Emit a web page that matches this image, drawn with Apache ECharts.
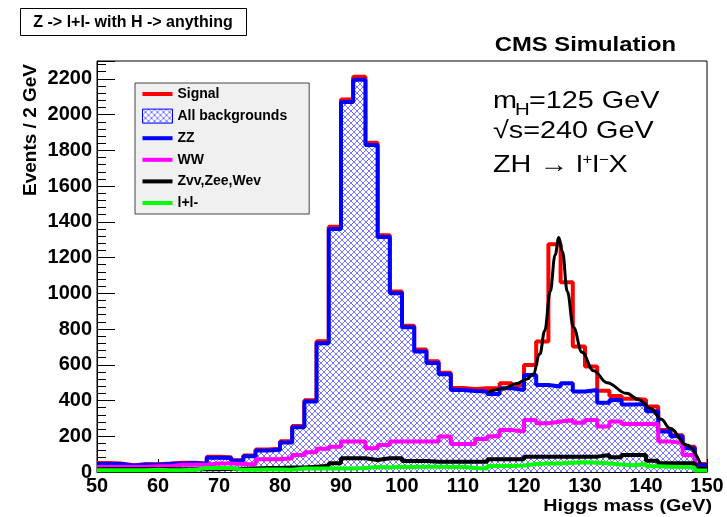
<!DOCTYPE html>
<html><head><meta charset="utf-8">
<script src="https://cdn.jsdelivr.net/npm/echarts@6/dist/echarts.min.js"></script>
<style>html,body{margin:0;padding:0;background:#fff}#c{width:727px;height:517px}</style>
</head><body><div id="c"></div>
<script>
// Bin edges (GeV), 2 GeV bins
const binEdges = [50,52,54,56,58,60,62,64,66,68,70,72,74,76,78,80,82,84,86,88,90,92,94,96,98,100,102,104,106,108,110,112,114,116,118,120,122,124,126,128,130,132,134,136,138,140,142,144,146,148,150];
// Signal + backgrounds (red)
const signalTotal = [50,48,38,44,44,47,52,52,48,86, 82,66,92,126,130,172,257,402,732,1372, 2085,2212,1842,1325,1010,818,685,620,555,470, 465,468,470,497,485,599,730,1275,1062,702, 590,455,425,410,405,366,235,205,142,45];
// All backgrounds (blue, hatched)
const allBackgrounds = [45,45,35,42,40,45,48,50,45,80, 78,63,88,120,125,165,250,394,720,1360, 2070,2195,1830,1315,1000,810,675,610,547,459, 453,450,437,469,459,543,487,478,497,450, 459,388,403,378,380,340,226,200,133,39];
// WW (magenta)
const wwValues = [28,28,28,28,32,32,40,40,40,48, 48,45,42,72,72,77,95,110,130,142, 170,170,133,151,170,170,170,170,198,157, 157,184,200,235,226,291,273,282,291,276, 291,254,282,269,269,269,170,164,95,20];
// Zvv,Zee,Wev (black)
const zvvValues = [15,15,15,15,15,15,15,15,15,15, 18,18,20,22,22,25,25,30,35,49, 77,77,67,77,77,62,62,58,58,58, 58,58,71,71,71,86,86,86,86,86, 86,95,82,95,95,63,49,49,49,20];
// l+l- (green)
const llValues = [10,10,10,10,12,10,10,12,22,22, 22,12,12,14,14,12,20,20,20,20, 20,22,28,25,30,28,30,30,28,30, 22,20,34,34,36,45,48,48,52,54, 52,48,42,38,45,32,30,28,25,8];
// Fit curve
const fitX = [114.1,116.5,118.8,120.5,121.5,122.6,123.4,124.3,125.1,125.7,126.3,127.1,128.1,129.5,131.4,133.6,136.8,138.8,140.8,142.5,143.9,146.7,148.9];
const fitY = [447,465,495,520,548,660,790,1010,1215,1312,1234,1010,810,670,567,500,440,405,355,295,245,151,49];

const FONT = 'Liberation Sans, Arial, Helvetica, sans-serif';
const LINE_ICON = 'path://M0,0M30,14M0,5L30,5L30,9L0,9Z';

function stepData(vals){
  return binEdges.map((e,i)=>[e, vals[Math.min(i, vals.length-1)]]);
}

const hatchCanvas = (function(){
  const c = document.createElement('canvas'); c.width = 6; c.height = 6;
  const g = c.getContext('2d');
  g.fillStyle = '#ffffff'; g.fillRect(0,0,6,6);
  g.strokeStyle = 'rgba(0,0,255,0.6)'; g.lineWidth = 0.9;
  g.beginPath(); g.moveTo(-1,-1); g.lineTo(7,7); g.moveTo(-1,7); g.lineTo(7,-1); g.stroke();
  return c;
})();
const hatchFill = {image: hatchCanvas, repeat: 'repeat'};

const chart = echarts.init(document.getElementById('c'), null, {renderer:'canvas'});

function stepSeries(name, vals, color, z, extra){
  return Object.assign({
    name: name, type:'line', step:'end', data: stepData(vals),
    symbol:'none', showSymbol:false, z: z,
    lineStyle:{color: color, width:4},
    itemStyle:{color: color},
    emphasis:{disabled:true}
  }, extra || {});
}

const option = {
  animation:false,
  backgroundColor:'#ffffff',
  grid:{left:97, right:20, top:61, bottom:45, show:true, borderColor:'#000', borderWidth:1, backgroundColor:'transparent'},
  xAxis:{
    type:'value', min:50, max:150, interval:10,
    axisLine:{show:true, lineStyle:{color:'#000', width:1}},
    axisTick:{show:true, inside:true, length:13, lineStyle:{color:'#000'}},
    minorTick:{show:true, inside:true, splitNumber:5, length:7, lineStyle:{color:'#000'}},
    splitLine:{show:false},
    axisLabel:{margin:4, fontSize:20, fontWeight:'bold', color:'#000', fontFamily:FONT}
  },
  yAxis:{
    type:'value', min:0, max:2300, interval:200,
    axisLine:{show:true, lineStyle:{color:'#000', width:1}},
    axisTick:{show:true, inside:true, length:18, lineStyle:{color:'#000'}},
    minorTick:{show:true, splitNumber:5, length:9, lineStyle:{color:'#000'}},
    splitLine:{show:false},
    axisLabel:{margin:5, fontSize:20, fontWeight:'bold', color:'#000', fontFamily:FONT,
      formatter: v => (v % 200 === 0 ? String(v) : '')}
  },
  legend:{
    orient:'vertical', left:135, top:83,
    padding:[4,22,4,7], itemWidth:30, itemHeight:14, itemGap:7.6,
    backgroundColor:'#f0f0f0', borderColor:'#444', borderWidth:1,
    textStyle:{fontFamily:FONT, fontWeight:'bold', fontSize:14, color:'#000'},
    data:[
      {name:'Signal', icon:LINE_ICON},
      {name:'All backgrounds', icon:'rect', itemStyle:{color:hatchFill, borderColor:'#0000ff', borderWidth:1}},
      {name:'ZZ', icon:LINE_ICON},
      {name:'WW', icon:LINE_ICON},
      {name:'Zvv,Zee,Wev', icon:LINE_ICON},
      {name:'l+l-', icon:LINE_ICON}
    ]
  },
  series:[
    stepSeries('Signal', signalTotal, '#ff0000', 2),
    stepSeries('All backgrounds', allBackgrounds, '#0000ff', 3, {
      lineStyle:{color:'#0000ff', width:0, opacity:0},
      itemStyle:{color:hatchFill},
      areaStyle:{color:hatchFill, opacity:1}
    }),
    stepSeries('ZZ', allBackgrounds, '#0000ff', 4),
    stepSeries('WW', wwValues, '#ff00ff', 5),
    stepSeries('Zvv,Zee,Wev', zvvValues, '#000000', 6),
    stepSeries('l+l-', llValues, '#00ff00', 7),
    {
      name:'fit', type:'line', smooth:0.4, smoothMonotone:'x', symbol:'none', showSymbol:false, z:8,
      data: fitX.map((x,i)=>[x, fitY[i]]),
      lineStyle:{color:'#000', width:3}, itemStyle:{color:'#000'}, emphasis:{disabled:true}
    }
  ],
  graphic:[
    {type:'rect', shape:{x:20.5, y:8.5, width:226, height:27}, style:{fill:'#fff', stroke:'#000', lineWidth:1}, z:10},
    {type:'text', x:133, y:22, scaleX:0.94, z:11,
      style:{text:'Z -> l+l- with H -> anything', fontFamily:FONT, fontWeight:'bold', fontSize:17, fill:'#000', align:'center', verticalAlign:'middle'}},
    {type:'text', x:676, y:45, scaleX:1.19, z:11,
      style:{text:'CMS Simulation', fontFamily:FONT, fontWeight:'bold', fontSize:20, fill:'#000', align:'right', verticalAlign:'middle'}},
    {type:'text', x:31, y:130, rotation:Math.PI/2, z:11,
      style:{text:'Events / 2 GeV', fontFamily:FONT, fontWeight:'bold', fontSize:19, fill:'#000', align:'center', verticalAlign:'middle'}},
    {type:'text', x:712, y:506, scaleX:1.16, z:11,
      style:{text:'Higgs mass (GeV)', fontFamily:FONT, fontWeight:'bold', fontSize:17, fill:'#000', align:'right', verticalAlign:'middle'}},
    // m_H = 125 GeV
    {type:'text', x:493, y:101, scaleX:1.2, z:11,
      style:{text:'m', fontFamily:FONT, fontSize:24, fill:'#000', align:'left', verticalAlign:'middle'}},
    {type:'text', x:515, y:110.5, scaleX:1.2, z:11,
      style:{text:'H', fontFamily:FONT, fontSize:17, fill:'#000', align:'left', verticalAlign:'middle'}},
    {type:'text', x:529, y:101, scaleX:1.2, z:11,
      style:{text:'=125 GeV', fontFamily:FONT, fontSize:24, fill:'#000', align:'left', verticalAlign:'middle'}},
    {type:'text', x:493, y:119, scaleX:1.2, z:11,
      style:{text:'{a|√s=240 GeV}', align:'left', verticalAlign:'top',
        rich:{a:{fontFamily:FONT, fontSize:24, lineHeight:30, verticalAlign:'top', fill:'#000'}}}},
    {type:'text', x:493, y:153, scaleX:1.2, z:11,
      style:{text:'{a|ZH → l}{p|+}{a|l}{p|−}{a|X}', align:'left', verticalAlign:'top',
        rich:{a:{fontFamily:FONT, fontSize:24, lineHeight:30, verticalAlign:'top', fill:'#000'},
              p:{fontFamily:FONT, fontSize:14, lineHeight:16, verticalAlign:'top', fill:'#000'}}}}
  ]
};
chart.setOption(option);
</script>
</body></html>
